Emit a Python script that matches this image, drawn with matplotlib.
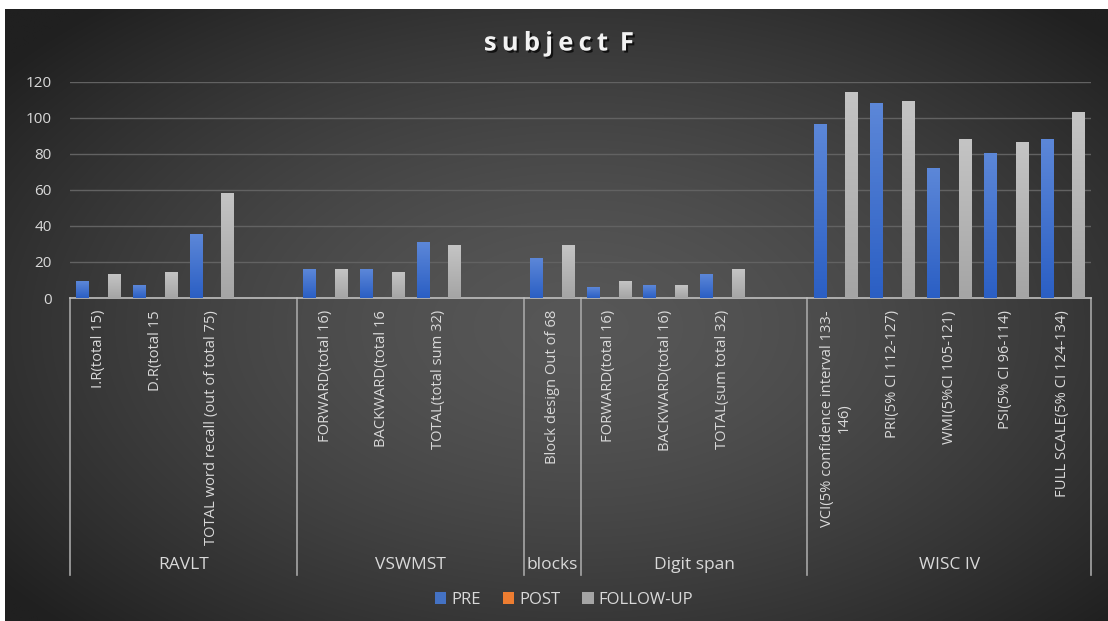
import numpy as np
import matplotlib
matplotlib.use("Agg")
import matplotlib.pyplot as plt
from matplotlib import patheffects
from matplotlib.patches import Patch
from matplotlib.colors import LinearSegmentedColormap

nan = np.nan

# test groups and how many category slots each one takes (Excel blank rows included)
groups = ["RAVLT", "VSWMST", "blocks", "Digit span", "WISC IV"]
group_slots = [4, 4, 1, 4, 5]

labels = [
    "I.R(total 15)", "D.R(total 15", "TOTAL word recall (out of total 75)", "",
    "FORWARD(total 16)", "BACKWARD(total 16", "TOTAL(total sum 32)", "",
    "Block design Out of 68",
    "FORWARD(total 16)", "BACKWARD(total 16)", "TOTAL(sum total 32)", "",
    "VCI(5% confidence interval 133-\n146)", "PRI(5% CI 112-127)",
    "WMI(5%CI 105-121)", "PSI(5% CI 96-114)", "FULL SCALE(5% CI 124-134)",
]

pre = [9, 7, 35, nan, 16, 16, 31, nan, 22, 6, 7, 13, nan, 96, 108, 72, 80, 88]
post = [nan, nan, nan, nan, nan, nan, nan, nan, nan, nan, nan, nan, nan, nan, nan, nan, nan, nan]
follow_up = [13, 14, 58, nan, 16, 14, 29, nan, 29, 9, 7, 16, nan, 114, 109, 88, 86, 103]

series_names = ["PRE", "POST", "FOLLOW-UP"]
yticks = [0, 20, 40, 60, 80, 100, 120]

plt.rcParams['font.family'] = ['Open Sans', 'DejaVu Sans']

W, H = 1108, 621
fig = plt.figure(figsize=(W / 100, H / 100), dpi=100, facecolor="white")

# dark radial background of the chart area
bg = fig.add_axes([5 / W, 0, 1 - 5 / W, (H - 9) / H])
yy, xx = np.mgrid[0:1:300j, 0:1:540j]
r = np.sqrt(((xx - 0.52) / 0.66) ** 2 + ((yy - 0.52) / 0.70) ** 2)
shade = 0x57 / 255 - (0x57 - 0x20) / 255 * np.clip(r, 0, 1) ** 1.5
bg.imshow(np.dstack([shade] * 3), extent=[0, 1, 0, 1], aspect="auto",
          interpolation="bicubic")
bg.axis("off")

ax = fig.add_axes([70 / W, (H - 298) / H, (1091 - 70) / W, (298 - 81.7) / H])
ax.patch.set_alpha(0)

x = np.arange(len(labels))
width = 0.22
offsets = [-0.28, 0.0, 0.28]
colors = [("#5c87d8", "#2b5fc4"), ("#f08a45", "#d9691f"), ("#c4c4c4", "#a5a5a5")]


def gradient_bars(xs, heights, top, bottom):
    cmap = LinearSegmentedColormap.from_list("g", [bottom, top])
    for xc, h in zip(xs, heights):
        if not np.isfinite(h) or h <= 0:
            continue
        ax.imshow(np.linspace(1, 0, 64).reshape(-1, 1), cmap=cmap, origin="upper",
                  extent=[xc - width / 2, xc + width / 2, 0, h], aspect="auto", zorder=3)


for vals, off, (top, bottom) in zip([pre, post, follow_up], offsets, colors):
    gradient_bars(x + off, np.array(vals, dtype=float), top, bottom)

ax.set_xlim(-0.5, len(labels) - 0.5)
ax.set_ylim(0, 120)
ax.set_yticks(yticks)
ax.set_xticks([])
ax.yaxis.grid(True, color="#626262", lw=1)
ax.set_axisbelow(True)
for s in ["top", "right", "left"]:
    ax.spines[s].set_visible(False)
ax.spines["bottom"].set_color("#bfbfbf")
ax.spines["bottom"].set_linewidth(1.2)
ax.tick_params(axis="y", length=0, labelcolor="#d9d9d9", labelsize=11, pad=13)

trans = ax.get_xaxis_transform()
axh = 298 - 81.7

# category labels
for i, lab in enumerate(labels):
    if lab:
        ax.text(i, -12 / axh, lab, transform=trans, rotation=90, ha="center", va="top",
                multialignment="center", color="#d9d9d9", fontsize=10.6)

# group separators and names
edges = np.concatenate([[0], np.cumsum(group_slots)]) - 0.5
for e in edges:
    ax.plot([e, e], [0, -(575 - 298) / axh], transform=trans, color="#a6a6a6",
            lw=1.2, clip_on=False)
for g, a, b in zip(groups, edges[:-1], edges[1:]):
    ax.text((a + b) / 2, -(565 - 298) / axh, g, transform=trans, ha="center",
            va="center", color="#d9d9d9", fontsize=12.5)

# title
fig.text(559 / W, 1 - 43 / H, "s\u2009u\u2009b\u2009j\u2009e\u2009c\u2009t\u2009 F",
         ha="center", va="center", color="#f2f2f2", fontsize=18.5, fontweight="bold",
         path_effects=[patheffects.SimplePatchShadow(offset=(1.5, -1.5), shadow_rgbFace="black", alpha=0.7),
                       patheffects.Normal()])

handles = [Patch(facecolor=c) for c in ["#4472c4", "#ed7d31", "#a5a5a5"]]
fig.legend(handles, series_names, loc="center", bbox_to_anchor=(564 / W, 1 - 600 / H),
           ncol=3, frameon=False, fontsize=12, labelcolor="#d9d9d9",
           handlelength=0.7, handleheight=0.7, handletextpad=0.3, columnspacing=1.3)

fig.savefig("out.png", dpi=100, facecolor=fig.get_facecolor())
